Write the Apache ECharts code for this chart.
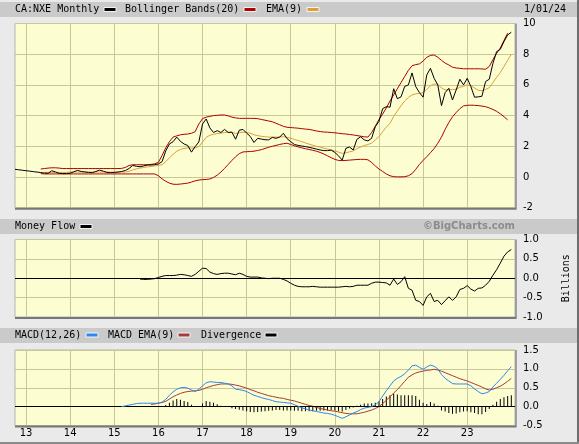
<!DOCTYPE html>
<html>
<head>
<meta charset="utf-8">
<script src="https://cdn.jsdelivr.net/npm/echarts@6/dist/echarts.min.js"></script>
<style>
html,body{margin:0;padding:0;background:#eaeaea;}
#chart{width:579px;height:444px;}
</style>
</head>
<body>
<div id="chart"></div>
<script>
// ---- categories: monthly, Oct 2012 .. Feb 2024 ----
const months = [];
for (let y = 2012, m = 10; y < 2024 || (y === 2024 && m <= 2); ) {
  months.push(y + '-' + (m < 10 ? '0' + m : '' + m));
  m++; if (m > 12) { m = 1; y++; }
}
const yearLabels = ['13','14','15','16','17','18','19','20','21','22','23'];

// ---- price (starts Oct 2012) ----
const priceStart = 0;
const price = [
  0.50,0.47,0.44,0.41,0.38,0.35,0.32,0.29,0.26,0.24,
  0.41,0.33,0.24,0.22,0.22,0.25,0.34,0.43,0.36,0.33,
  0.30,0.28,0.36,0.45,0.38,0.30,0.28,0.30,0.32,0.36,
  0.42,0.55,0.75,0.70,0.67,0.72,0.78,0.78,0.80,0.85,
  1.00,1.70,2.15,2.30,2.60,2.32,2.15,2.05,1.62,1.98,
  2.28,3.45,3.78,3.20,2.90,3.02,2.90,3.10,2.90,2.92,
  2.46,3.05,3.10,2.86,2.64,2.25,2.52,2.47,2.43,2.42,
  2.58,2.52,2.60,2.85,2.50,2.30,2.12,2.06,2.02,1.98,
  1.93,1.88,1.82,1.76,1.72,1.72,1.75,1.60,1.38,1.10,
  1.87,1.95,1.76,2.45,2.62,2.42,2.35,2.52,3.28,3.62,
  4.45,4.58,4.55,5.75,5.10,5.22,5.90,6.00,6.78,5.89,
  5.50,5.20,6.65,7.08,6.43,6.00,4.65,5.50,5.78,5.02,
  5.67,6.37,6.00,6.43,5.89,5.20,5.22,5.26,6.22,6.37,
  7.41,8.17,8.32,8.82,9.26,9.43
];

// ---- Bollinger bands (20) ----
const bandStart = 7;
const upperBand = [
  0.52,0.55,0.58,
  0.60,0.60,0.58,0.55,0.55,0.55,0.55,0.55,0.55,0.55,
  0.55,0.55,0.55,0.55,0.55,0.55,0.55,0.55,0.55,0.56,
  0.62,0.75,0.80,0.80,0.80,0.80,0.80,0.82,0.86,
  0.95,1.40,1.90,2.30,2.60,2.68,2.75,2.78,2.80,2.85,
  2.95,3.45,3.80,3.90,3.95,4.00,4.02,4.04,4.04,3.98,
  3.90,3.85,3.82,3.82,3.82,3.82,3.82,3.80,3.75,3.70,
  3.65,3.60,3.50,3.40,3.30,3.24,3.22,3.20,3.18,3.15,
  3.12,3.10,3.05,3.00,2.96,2.93,2.92,2.90,2.88,2.85,
  2.82,2.80,2.77,2.74,2.70,2.66,2.62,2.60,2.90,3.30,
  3.75,4.10,4.50,4.95,5.35,5.75,6.15,6.55,6.95,7.25,
  7.32,7.37,7.55,7.80,7.92,7.95,7.80,7.60,7.42,7.30,
  7.15,7.10,7.08,7.05,7.05,7.05,7.05,7.05,7.04,7.02,
  7.20,7.65,8.05,8.40,8.90,9.37
];
const lowerBand = [
  0.22,0.20,0.20,
  0.20,0.20,0.20,0.20,0.20,0.20,0.20,0.20,0.20,0.20,
  0.20,0.20,0.20,0.20,0.20,0.20,0.20,0.20,0.20,0.20,
  0.20,0.20,0.20,0.20,0.20,0.20,0.20,0.20,0.20,
  0.08,-0.12,-0.28,-0.40,-0.47,-0.48,-0.46,-0.43,-0.40,-0.33,
  -0.25,-0.20,-0.17,-0.16,-0.13,-0.03,0.12,0.32,0.56,0.82,
  1.08,1.32,1.52,1.63,1.65,1.66,1.68,1.73,1.78,1.86,
  1.94,2.00,2.06,2.12,2.17,2.20,2.12,2.03,1.96,1.90,
  1.84,1.79,1.74,1.68,1.60,1.50,1.38,1.26,1.15,1.08,
  1.07,1.08,1.10,1.12,1.14,1.15,1.15,1.12,0.95,0.72,
  0.52,0.36,0.20,0.08,0.02,0.01,0.01,0.02,0.08,0.22,
  0.50,0.82,1.08,1.32,1.58,1.85,2.20,2.60,3.10,3.55,
  3.92,4.20,4.45,4.63,4.67,4.68,4.67,4.65,4.62,4.58,
  4.50,4.40,4.28,4.12,3.93,3.72
];

// ---- EMA(9) ----
const emaStart = 8;
const ema9 = [
  0.30,0.30,0.30,0.30,0.30,0.30,0.30,
  0.32,0.32,0.32,0.32,0.32,0.32,0.32,0.32,0.32,0.32,0.32,0.32,0.32,0.32,0.32,0.32,
  0.37,0.46,0.53,0.58,0.62,0.66,0.69,0.72,0.75,
  0.80,1.00,1.25,1.48,1.68,1.80,1.86,1.90,1.88,1.90,
  1.98,2.28,2.58,2.72,2.78,2.83,2.86,2.90,2.92,2.92,
  2.83,2.88,2.92,2.90,2.85,2.75,2.70,2.65,2.62,2.60,
  2.60,2.60,2.60,2.63,2.58,2.52,2.45,2.38,2.30,2.22,
  2.14,2.07,2.00,1.94,1.88,1.82,1.76,1.70,1.62,1.54,
  1.58,1.64,1.70,1.85,1.95,2.05,2.12,2.20,2.42,2.63,
  2.95,3.25,3.50,3.95,4.30,4.65,4.95,5.18,5.35,5.42,
  5.45,5.50,5.70,5.95,6.05,6.05,5.80,5.68,5.68,5.70,
  5.72,5.85,5.90,6.00,5.95,5.80,5.65,5.62,5.70,5.82,
  6.15,6.50,6.80,7.20,7.60,8.00
];

// ---- Money Flow (billions) ----
const flowStart = 34;
const moneyFlow = [
  -0.02,-0.03,-0.03,-0.02,-0.01,0.02,0.05,0.07,0.07,0.07,
  0.08,0.10,0.09,0.07,0.05,0.10,0.18,0.26,0.25,0.16,
  0.12,0.10,0.12,0.13,0.13,0.11,0.09,0.13,0.10,0.05,
  0.03,0.03,0.03,0.01,0.00,-0.01,0.00,0.00,0.00,-0.03,
  -0.07,-0.13,-0.18,-0.21,-0.22,-0.22,-0.22,-0.21,-0.22,-0.23,
  -0.23,-0.23,-0.23,-0.23,-0.23,-0.22,-0.21,-0.22,-0.21,-0.18,
  -0.18,-0.18,-0.18,-0.13,-0.10,-0.10,-0.11,-0.12,-0.18,-0.02,
  -0.16,-0.09,0.04,-0.26,-0.31,-0.57,-0.60,-0.70,-0.48,-0.39,
  -0.60,-0.57,-0.68,-0.58,-0.48,-0.57,-0.48,-0.29,-0.26,-0.19,
  -0.28,-0.33,-0.26,-0.25,-0.18,-0.08,0.08,0.22,0.39,0.57,
  0.68,0.74
];

// ---- MACD(12,26) ----
const macdStart = 29;
const macd = [
  0.00,0.02,0.04,0.06,0.08,0.09,0.09,0.09,0.09,0.09,
  0.09,0.12,0.19,0.30,0.39,0.46,0.50,0.51,0.49,0.44,
  0.40,0.46,0.55,0.63,0.66,0.65,0.64,0.64,0.62,0.60,
  0.55,0.46,0.45,0.43,0.40,0.35,0.30,0.27,0.24,0.21,
  0.19,0.16,0.13,0.12,0.11,0.10,0.09,0.05,0.01,-0.03,
  -0.06,-0.09,-0.11,-0.13,-0.15,-0.17,-0.18,-0.20,-0.23,-0.27,
  -0.31,-0.27,-0.22,-0.17,-0.13,-0.08,-0.04,-0.02,0.00,0.05,
  0.13,0.28,0.42,0.55,0.68,0.75,0.80,0.87,0.97,1.08,
  1.10,1.04,0.99,1.05,1.10,1.07,1.00,0.85,0.75,0.68,
  0.61,0.60,0.60,0.60,0.60,0.55,0.47,0.40,0.34,0.36,
  0.40,0.52,0.62,0.72,0.83,0.95,1.06
];
const signalStart = 37;
const macdSignal = [
  0.06,0.07,0.09,0.11,0.14,0.20,0.26,0.31,0.35,0.38,
  0.40,0.41,0.42,0.43,0.46,0.50,0.53,0.56,0.58,0.60,
  0.60,0.60,0.59,0.57,0.55,0.52,0.49,0.45,0.42,0.38,
  0.35,0.32,0.29,0.27,0.25,0.23,0.22,0.19,0.17,0.15,
  0.12,0.09,0.06,0.03,0.01,-0.02,-0.05,-0.07,-0.09,-0.11,
  -0.12,-0.14,-0.16,-0.18,-0.19,-0.19,-0.19,-0.17,-0.15,-0.12,
  -0.09,-0.05,0.00,0.08,0.17,0.26,0.36,0.45,0.56,0.67,
  0.78,0.84,0.89,0.92,0.94,0.96,0.97,0.99,0.97,0.94,
  0.90,0.86,0.82,0.78,0.74,0.71,0.68,0.64,0.60,0.56,
  0.52,0.47,0.44,0.46,0.50,0.54,0.60,0.67,0.75
];
const divStart = 41;
const divergence = [
  0.04,0.10,0.16,0.20,0.18,0.15,0.12,0.05,0.00,0.00,
  0.08,0.15,0.13,0.10,0.06,0.02,0.00,0.00,-0.04,-0.06,
  -0.08,-0.10,-0.12,-0.14,-0.15,-0.14,-0.13,-0.12,-0.11,-0.10,
  -0.09,-0.09,-0.10,-0.10,-0.10,-0.11,-0.11,-0.12,-0.12,-0.12,
  -0.12,-0.11,-0.11,-0.10,-0.10,-0.09,-0.10,-0.12,-0.13,-0.09,
  -0.05,-0.02,0.02,0.05,0.08,0.08,0.09,0.10,0.14,0.20,
  0.27,0.30,0.35,0.32,0.30,0.30,0.30,0.30,0.28,0.18,
  0.10,0.07,0.12,0.08,0.02,-0.10,-0.13,-0.17,-0.19,-0.18,
  -0.15,-0.13,-0.12,-0.15,-0.17,-0.20,-0.20,-0.14,-0.06,0.05,
  0.13,0.20,0.25,0.28,0.30
];

const mainTicks = { min: -2, max: 10, interval: 2 };
const flowTicks = { min: -1, max: 1, interval: 0.5 };
const macdTicks = { min: -0.5, max: 1.5, interval: 0.5 };

// ---- helpers ----
function pad(start, arr) { return new Array(start).fill(null).concat(arr); }
const isJan = v => v.slice(5) === '01';
const labelShown = v => isJan(v) && yearLabels.indexOf(v.slice(2, 4)) >= 0;

const GRID = '#c8c896';
const LBL = { fontFamily: 'DejaVu Sans', fontSize: 10, color: '#000' };
const MONO = 'DejaVu Sans Mono';

function xAx(i, showLabels) {
  return {
    type: 'category', gridIndex: i, data: months, boundaryGap: false,
    axisLine: { show: false, onZero: false }, axisTick: { show: false },
    axisLabel: showLabels ? Object.assign({
      interval: (idx, v) => labelShown(v), margin: 3,
      formatter: v => v.slice(2, 4)
    }, LBL) : { show: false },
    splitLine: { show: true, interval: (idx, v) => labelShown(v), lineStyle: { color: GRID, width: 1 } }
  };
}
function yAx(i, t, fmt, extra) {
  return Object.assign({
    type: 'value', gridIndex: i, position: 'right', min: t.min, max: t.max, interval: t.interval,
    axisLine: { show: false }, axisTick: { show: false },
    axisLabel: Object.assign({ margin: 8, formatter: fmt }, LBL),
    splitLine: { show: true, lineStyle: { color: GRID, width: 1 } }
  }, extra || {});
}
function line(name, xi, start, arr, color, z) {
  return {
    name: name, type: 'line', xAxisIndex: xi, yAxisIndex: xi, data: pad(start, arr),
    showSymbol: false, symbol: 'none', lineStyle: { color: color, width: 1 }, z: z || 2
  };
}
const zeroLine = {
  silent: true, symbol: 'none', label: { show: false },
  lineStyle: { color: '#000', width: 1, type: 'solid' }, data: [{ yAxis: 0 }]
};

const gridBg = '#fdfdd2';
const gridBoxes = [
  { left: 15, right: 64, top: 23.5, height: 184.2 },
  { left: 15, right: 64, top: 239.5, height: 77.5 },
  { left: 15, right: 64, top: 350, height: 75.5 }
];
const grids = gridBoxes.map(g => Object.assign({ show: true, backgroundColor: gridBg, borderColor: '#b4b4b4', borderWidth: 1 }, g));

// darker bottom / right edges of each plot frame (decoration)
const frameEdges = [];
gridBoxes.forEach(g => {
  const l = g.left, r = 579 - g.right, t = g.top, b = g.top + g.height;
  frameEdges.push({ type: 'line', shape: { x1: l, y1: b + 1, x2: r + 1.5, y2: b + 1 }, style: { stroke: '#777', lineWidth: 2 }, z: 9 });
  frameEdges.push({ type: 'line', shape: { x1: r + 1, y1: t, x2: r + 1, y2: b + 1 }, style: { stroke: '#888', lineWidth: 1.5 }, z: 9 });
});

function hdrText(x, y, text, extra) {
  return { type: 'text', x: x, y: y, style: Object.assign({ text: text, font: '10px "' + MONO + '"', fill: '#000', verticalAlign: 'middle' }, extra || {}), z: 10 };
}
function swatch(x, y, color) {
  return { type: 'rect', shape: { x: x, y: y - 2, width: 12, height: 4 }, style: { fill: color, stroke: '#f4f4f4', lineWidth: 1 }, z: 10 };
}

const C_PRICE = '#000000', C_BB = '#b00000', C_EMA = '#dda032', C_MACD = '#2f86f0', C_SIG = '#a63a3a';

const option = {
  animation: false,
  backgroundColor: '#eaeaea',
  grid: grids,
  xAxis: [xAx(0, false), xAx(1, false), xAx(2, true)],
  yAxis: [
    yAx(0, mainTicks, v => String(v)),
    yAx(1, flowTicks, v => v.toFixed(1), {
      name: 'Billions', nameLocation: 'middle', nameRotate: 90, nameGap: 46,
      nameTextStyle: { fontFamily: MONO, fontSize: 10, color: '#000' }
    }),
    yAx(2, macdTicks, v => v.toFixed(1))
  ],
  series: [
    line('Upper', 0, bandStart, upperBand, C_BB, 3),
    line('Lower', 0, bandStart, lowerBand, C_BB, 3),
    line('EMA(9)', 0, emaStart, ema9, C_EMA, 4),
    line('CA:NXE', 0, priceStart, price, C_PRICE, 5),
    Object.assign(line('Money Flow', 1, flowStart, moneyFlow, '#000', 5), { markLine: zeroLine }),
    {
      name: 'Divergence', type: 'bar', xAxisIndex: 2, yAxisIndex: 2, data: pad(divStart, divergence),
      barWidth: 1, itemStyle: { color: '#000' }, z: 3, markLine: zeroLine
    },
    line('MACD EMA(9)', 2, signalStart, macdSignal, C_SIG, 4),
    line('MACD(12,26)', 2, macdStart, macd, C_MACD, 5)
  ],
  graphic: [
    { type: 'rect', shape: { x: 0, y: 2, width: 577, height: 15 }, style: { fill: '#cacaca' }, z: 1 },
    { type: 'rect', shape: { x: 0, y: 219, width: 577, height: 15 }, style: { fill: '#cacaca' }, z: 1 },
    { type: 'rect', shape: { x: 0, y: 328, width: 577, height: 15 }, style: { fill: '#cacaca' }, z: 1 },
    { type: 'rect', shape: { x: 577, y: 0, width: 2, height: 444 }, style: { fill: '#6e6e6e' }, z: 1 },
    { type: 'rect', shape: { x: 0, y: 442, width: 579, height: 2 }, style: { fill: '#8a8a8a' }, z: 1 },

    hdrText(15, 9.5, 'CA:NXE Monthly'), swatch(104, 9.5, C_PRICE),
    hdrText(125, 9.5, 'Bollinger Bands(20)'), swatch(244, 9.5, C_BB),
    hdrText(266, 9.5, 'EMA(9)'), swatch(307, 9.5, C_EMA),
    hdrText(524, 9.5, '1/01/24'),

    hdrText(15, 226.5, 'Money Flow'), swatch(80, 226.5, '#000'),
    hdrText(515, 226.5, '\u00a9BigCharts.com', { font: 'bold 10px "DejaVu Sans"', fill: '#8c8c8c', align: 'right' }),

    hdrText(15, 335, 'MACD(12,26)'), swatch(86, 335, C_MACD),
    hdrText(108, 335, 'MACD EMA(9)'), swatch(178, 335, C_SIG),
    hdrText(201, 335, 'Divergence'), swatch(265, 335, '#000')
  ].concat(frameEdges)
};

const chart = echarts.init(document.getElementById('chart'), null, { renderer: 'canvas' });
chart.setOption(option);
</script>
</body>
</html>
